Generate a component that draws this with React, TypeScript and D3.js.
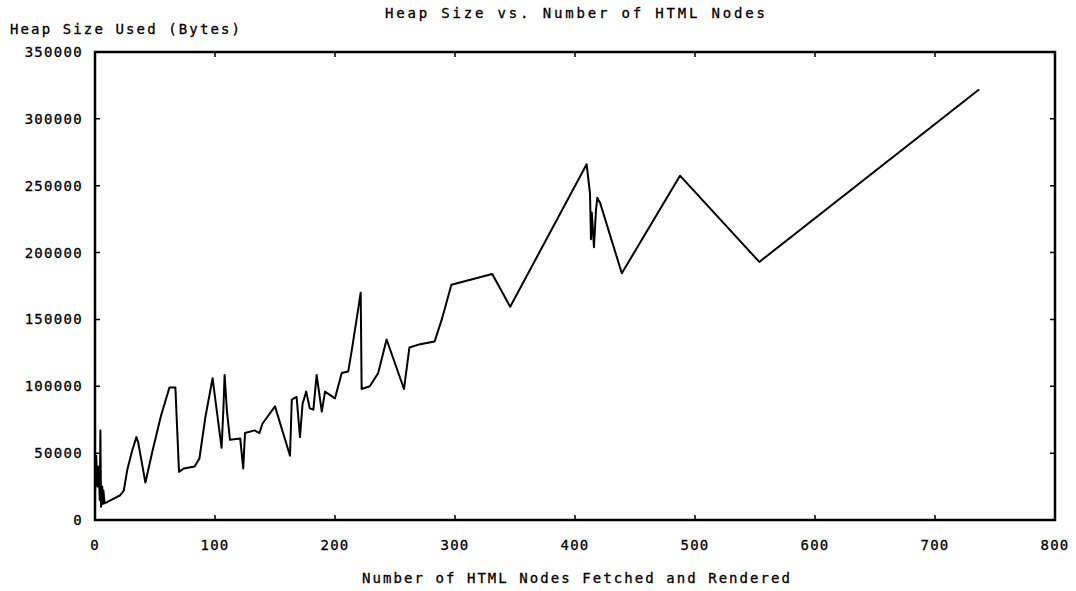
import { useEffect, useRef } from "react"
import * as d3 from "d3"

// number of HTML nodes (x) and heap size in bytes (y)
const nodes = [
  0, 1, 2, 3, 4, 4.5, 5, 6, 6.5, 7, 8, 21, 24, 27, 31, 34.5, 36, 42, 48, 55,
  62, 67, 70, 74, 83, 87, 92, 98, 101, 105.5, 107, 108, 110, 112.5, 121, 123.5,
  125, 133, 137, 139.5, 150, 162.5, 164, 168, 170.8, 173, 176, 179, 182, 184.7,
  189, 191.7, 200, 205.6, 211, 214, 218, 221.4, 222.2, 229, 236, 243, 257.5,
  262, 271, 283, 289, 297, 331, 346, 409.7, 412.5, 413.3, 414, 415.8, 417.5,
  418.6, 421, 439, 487.5, 553.6, 736.7,
]
const heap = [
  20000, 48000, 25000, 40000, 15000, 67000, 10000, 25000, 12000, 22000, 12500,
  18500, 22000, 38000, 52000, 62000, 58000, 28000, 52000, 78000, 99000, 99000,
  36000, 38500, 40000, 46000, 77000, 106000, 85000, 54000, 83000, 108500, 81000,
  60000, 61000, 38500, 65000, 67000, 65000, 72000, 85000, 48000, 90000, 92000,
  62000, 87000, 96000, 83500, 82500, 108500, 81000, 96000, 91000, 110000,
  111000, 127000, 150000, 170000, 98000, 100000, 110000, 135000, 98000, 129000,
  131500, 133500, 150000, 176000, 184000, 159500, 266000, 244000, 210000,
  230000, 204000, 232000, 241000, 237000, 184500, 257500, 193000, 322000,
]

const xTicks = [0, 100, 200, 300, 400, 500, 600, 700, 800]
const yTicks = [0, 50000, 100000, 150000, 200000, 250000, 300000, 350000]

const title = "Heap Size vs. Number of HTML Nodes"
const xLabel = "Number of HTML Nodes Fetched and Rendered"
const yLabel = "Heap Size Used (Bytes)"

export default function App() {
  const ref = useRef<SVGSVGElement>(null)

  useEffect(() => {
    const width = 1076
    const height = 591
    const m = { top: 52, right: 21, bottom: 71, left: 95 }
    const font = "'DejaVu Sans Mono', monospace"

    const svg = d3.select(ref.current)
    svg.selectAll("*").remove()
    svg.attr("width", width).attr("height", height)

    const x = d3.scaleLinear().domain([0, 800]).range([m.left, width - m.right])
    const y = d3.scaleLinear().domain([0, 350000]).range([height - m.bottom, m.top])

    const g = svg.append("g")

    // inward ticks on all four sides
    const tl = 5
    g.selectAll(".xt")
      .data(xTicks)
      .enter()
      .append("path")
      .attr("d", (d) => `M${x(d)},${y(0)}v${-tl}M${x(d)},${y(350000)}v${tl}`)
      .attr("stroke", "#000")
      .attr("stroke-width", 1.5)
    g.selectAll(".yt")
      .data(yTicks)
      .enter()
      .append("path")
      .attr("d", (d) => `M${x(0)},${y(d)}h${tl}M${x(800)},${y(d)}h${-tl}`)
      .attr("stroke", "#000")
      .attr("stroke-width", 1.5)

    // data line
    const pts: [number, number][] = nodes.map((n, i) => [n, heap[i]])
    const line = d3
      .line<[number, number]>()
      .x((d) => x(d[0]))
      .y((d) => y(d[1]))
    g.append("path")
      .attr("d", line(pts))
      .attr("fill", "none")
      .attr("stroke", "#000")
      .attr("stroke-width", 2)
      .attr("stroke-linejoin", "round")

    // frame
    g.append("rect")
      .attr("x", x(0))
      .attr("y", y(350000))
      .attr("width", x(800) - x(0))
      .attr("height", y(0) - y(350000))
      .attr("fill", "none")
      .attr("stroke", "#000")
      .attr("stroke-width", 2.5)

    // tick labels
    g.selectAll(".xl")
      .data(xTicks)
      .enter()
      .append("text")
      .attr("x", (d) => x(d))
      .attr("y", 550)
      .attr("text-anchor", "middle")
      .attr("font-family", font)
      .attr("font-size", 14)
      .attr("letter-spacing", 1.3)
      .attr("stroke", "#000")
      .attr("stroke-width", 0.3)
      .text((d) => d)
    g.selectAll(".yl")
      .data(yTicks)
      .enter()
      .append("text")
      .attr("x", 83)
      .attr("y", (d) => y(d) + 5)
      .attr("text-anchor", "end")
      .attr("font-family", font)
      .attr("font-size", 14)
      .attr("letter-spacing", 1.3)
      .attr("stroke", "#000")
      .attr("stroke-width", 0.3)
      .text((d) => d)

    // titles
    const label = (t: string, x0: number, yb: number, len: number) =>
      g.append("text")
        .attr("x", x0)
        .attr("y", yb)
        .attr("font-family", font)
        .attr("font-size", 14)
        .attr("stroke", "#000")
        .attr("stroke-width", 0.3)
        .attr("textLength", len)
        .attr("lengthAdjust", "spacing")
        .text(t)
    label(title, 385, 18, 380)
    label(yLabel, 10, 34, 230)
    label(xLabel, 362, 583, 428)
  }, [])

  return (
    <svg
      ref={ref}
      style={{ position: "absolute", left: 0, top: 0, background: "#fff" }}
    />
  )
}
